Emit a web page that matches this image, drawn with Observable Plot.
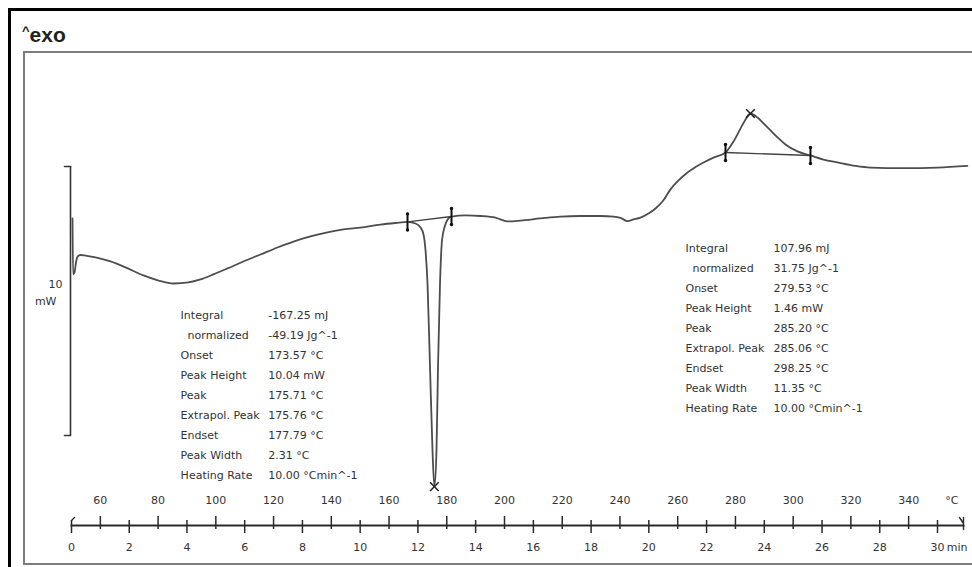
<!DOCTYPE html>
<html><head><meta charset="utf-8">
<script src="https://cdn.jsdelivr.net/npm/d3@7"></script>
<script src="https://cdn.jsdelivr.net/npm/@observablehq/plot@0.6"></script>
<style>
body{margin:0;background:#fff;}
#page{position:relative;width:972px;height:567px;overflow:hidden;background:#fff;}
#outer{position:absolute;left:8px;top:8px;width:1000px;height:1000px;border:3px solid #000;box-sizing:border-box;}
#inner{position:absolute;left:23px;top:51px;width:1000px;height:514px;border:2px solid #7c7c7c;border-right:none;box-sizing:border-box;}
#title{position:absolute;left:22px;top:25px;font:bold 21px "Liberation Sans",Arial,sans-serif;line-height:20px;color:#222;white-space:nowrap;}
#title .c{font-size:13px;position:relative;top:-7px;}
#chart{position:absolute;left:0;top:0;}
</style></head>
<body>
<div id="page">
  <div id="outer"></div>
  <div id="inner"></div>
  <div id="title"><span class="c">^</span>exo</div>
  <div id="chart"></div>
</div>
<script>
// ---- data ----
const startTemp = 50;      // °C at t = 0 min
const heatingRate = 10;    // °C/min
const curveT = [50.35,50.55,51.04,51.56,52.08,53.12,54.85,58.31,63.51,68.71,74.94,80.14,85.33,90.53,94.69,99.19,104.04,109.58,115.47,121.36,126.91,132.79,138.68,144.23,150.12,157.04,162.24,166.40,169.17,170.91,171.94,172.64,173.33,174.20,175.06,175.71,176.44,176.96,177.66,178.35,179.39,180.60,181.64,186.49,191.69,196.88,201.04,205.54,212.47,219.40,226.33,233.25,237.76,240.18,242.61,244.69,247.11,249.88,252.31,254.73,257.51,260.28,263.40,266.17,268.94,272.41,276.56,279.33,281.76,283.49,285.20,287.64,289.72,292.15,294.57,297.34,301.50,305.99,310.51,315.36,321.59,326.79,338.22,350.00,360.39];
const curveMW = [3.07,0.99,1.06,1.43,1.65,1.71,1.69,1.62,1.47,1.25,0.95,0.76,0.65,0.69,0.80,0.99,1.21,1.47,1.73,1.99,2.21,2.40,2.55,2.66,2.73,2.84,2.90,2.94,2.88,2.73,2.47,1.88,0.65,-2.47,-5.56,-6.90,-5.56,-2.47,0.65,2.25,2.81,3.07,3.14,3.18,3.16,3.10,2.96,2.99,3.07,3.14,3.16,3.16,3.14,3.09,2.97,3.03,3.10,3.25,3.44,3.70,4.15,4.48,4.78,4.98,5.15,5.33,5.52,5.93,6.41,6.75,6.97,6.82,6.60,6.34,6.08,5.82,5.56,5.41,5.26,5.15,5.02,4.96,4.94,4.96,5.02];
const limitT = [166.40, 181.64, 276.56, 305.99];
const limitMW = [2.94, 3.14, 5.52, 5.41];
const peakT = [175.71, 285.20];
const peakMW = [-6.90, 6.97];
const tempTicks = [60,80,100,120,140,160,180,200,220,240,260,280,300,320,340];
const timeTicks = [0,2,4,6,8,10,12,14,16,18,20,22,24,26,28,30];
const scaleBarMW = 10;
const rowNames = ["Integral","\u00a0\u00a0normalized","Onset","Peak Height","Peak","Extrapol. Peak","Endset","Peak Width","Heating Rate"];
const peak1Values = ["-167.25 mJ","-49.19 Jg^-1","173.57 °C","10.04 mW","175.71 °C","175.76 °C","177.79 °C","2.31 °C","10.00 °Cmin^-1"];
const peak2Values = ["107.96 mJ","31.75 Jg^-1","279.53 °C","1.46 mW","285.20 °C","285.06 °C","298.25 °C","11.35 °C","10.00 °Cmin^-1"];

// ---- derived tables ----
const curve = curveT.map((T, i) => ({T, mW: curveMW[i]}));
const limits = limitT.map((T, i) => ({T, mW: limitMW[i]}));
const baselines = [{x1: limitT[0], y1: limitMW[0], x2: limitT[1], y2: limitMW[1]},
                   {x1: limitT[2], y1: limitMW[2], x2: limitT[3], y2: limitMW[3]}];
const peaks = peakT.map((T, i) => ({T, mW: peakMW[i]}));
const toTemp = t => startTemp + heatingRate * t;
const scaleBar = [{T: startTemp, lo: -scaleBarMW / 2, hi: scaleBarMW / 2}];
const tables = [
  {values: peak1Values, x: 87.8, xv: 118.2, y: -3.40},
  {values: peak2Values, x: 262.7, xv: 293.2, y: -0.91}
];

const stick = {draw(ctx, l) { ctx.moveTo(0, 0); ctx.lineTo(0, -l); }};
const endMark = {draw(ctx) { ctx.moveTo(0, -8); ctx.lineTo(0, 4); ctx.moveTo(-4, -8); ctx.lineTo(0, -2); }};
const startMark = {draw(ctx) { ctx.moveTo(0, -5); ctx.lineTo(3, -8); }};

const ink = "#2a2a2a";
const txt = {fontSize: 11, fill: "#333"};

const chart = Plot.plot({
  width: 972, height: 567,
  marginLeft: 71, marginRight: 9, marginTop: 52, marginBottom: 42,
  x: {domain: [50, 350], range: [71, 937]},
  y: {domain: [-5, 5], range: [435, 166], axis: null},
  style: {background: "transparent", fontFamily: "'DejaVu Sans', sans-serif", fontSize: "11px"},
  marks: [
    // scale bar
    Plot.ruleX(scaleBar, {x: "T", y1: "lo", y2: "hi", stroke: "#333", strokeWidth: 1.6, dx: -1}),
    Plot.vector(scaleBar, {x: "T", y: "lo", rotate: -90, length: 6, anchor: "start", shape: stick, stroke: "#333", strokeWidth: 1.6, dx: -1}),
    Plot.vector(scaleBar, {x: "T", y: "hi", rotate: -90, length: 6, anchor: "start", shape: stick, stroke: "#333", strokeWidth: 1.6, dx: -1}),
    Plot.text(scaleBar, {x: "T", y: 0, text: () => String(scaleBarMW), textAnchor: "end", dx: -9, dy: -17, ...txt}),
    Plot.text(scaleBar, {x: "T", y: 0, text: () => "mW", textAnchor: "end", dx: -15, dy: 0, ...txt}),
    // curve
    Plot.line(curve, {x: "T", y: "mW", stroke: "#4d4d4d", strokeWidth: 1.8, curve: "monotone-x"}),
    // integration baselines and limits
    Plot.link(baselines, {x1: "x1", y1: "y1", x2: "x2", y2: "y2", stroke: "#444", strokeWidth: 1.4}),
    Plot.vector(limits, {x: "T", y: "mW", length: 17, anchor: "middle", shape: stick, stroke: "#111", strokeWidth: 2}),
    Plot.dot(limits, {x: "T", y: "mW", dy: -8, r: 1.7, fill: "#111"}),
    Plot.dot(limits, {x: "T", y: "mW", dy: 8, r: 1.7, fill: "#111"}),
    // peak markers
    Plot.dot(peaks, {x: "T", y: "mW", symbol: "times", r: 4, stroke: "#222", strokeWidth: 1.5}),
    // result tables
    Plot.text(tables, {x: "x", y: "y", text: () => rowNames.join("\n"), textAnchor: "start", lineHeight: 1.82, ...txt}),
    Plot.text(tables, {x: "xv", y: "y", text: d => d.values.join("\n"), textAnchor: "start", lineHeight: 1.82, ...txt}),
    // bottom axis
    Plot.frame({anchor: "bottom", stroke: ink, strokeWidth: 2}),
    Plot.axisX(tempTicks, {anchor: "bottom", tickSize: 13, dy: -9, tickFormat: () => "", label: null, stroke: ink, strokeWidth: 1.5}),
    Plot.axisX(timeTicks.map(toTemp), {anchor: "bottom", tickSize: 13, dy: -5, tickFormat: () => "", label: null, stroke: ink, strokeWidth: 1.5}),
    Plot.text(tempTicks, {x: d => d, text: d => String(d), frameAnchor: "bottom", dy: -22, ...txt}),
    Plot.text(timeTicks, {x: toTemp, text: d => String(d), frameAnchor: "bottom", dy: 25, ...txt}),
    Plot.text(["°C"], {frameAnchor: "bottom-right", dy: -22, dx: -5, ...txt}),
    Plot.text(["min"], {frameAnchor: "bottom-right", dy: 25, dx: 4, textAnchor: "end", ...txt}),
    Plot.vector([0], {frameAnchor: "bottom-right", length: 1, shape: endMark, stroke: ink, strokeWidth: 1.4, anchor: "start"}),
    Plot.vector([0], {frameAnchor: "bottom-left", length: 1, shape: startMark, stroke: ink, strokeWidth: 1.4, anchor: "start"})
  ]
});
document.getElementById("chart").appendChild(chart);
</script>
</body></html>
